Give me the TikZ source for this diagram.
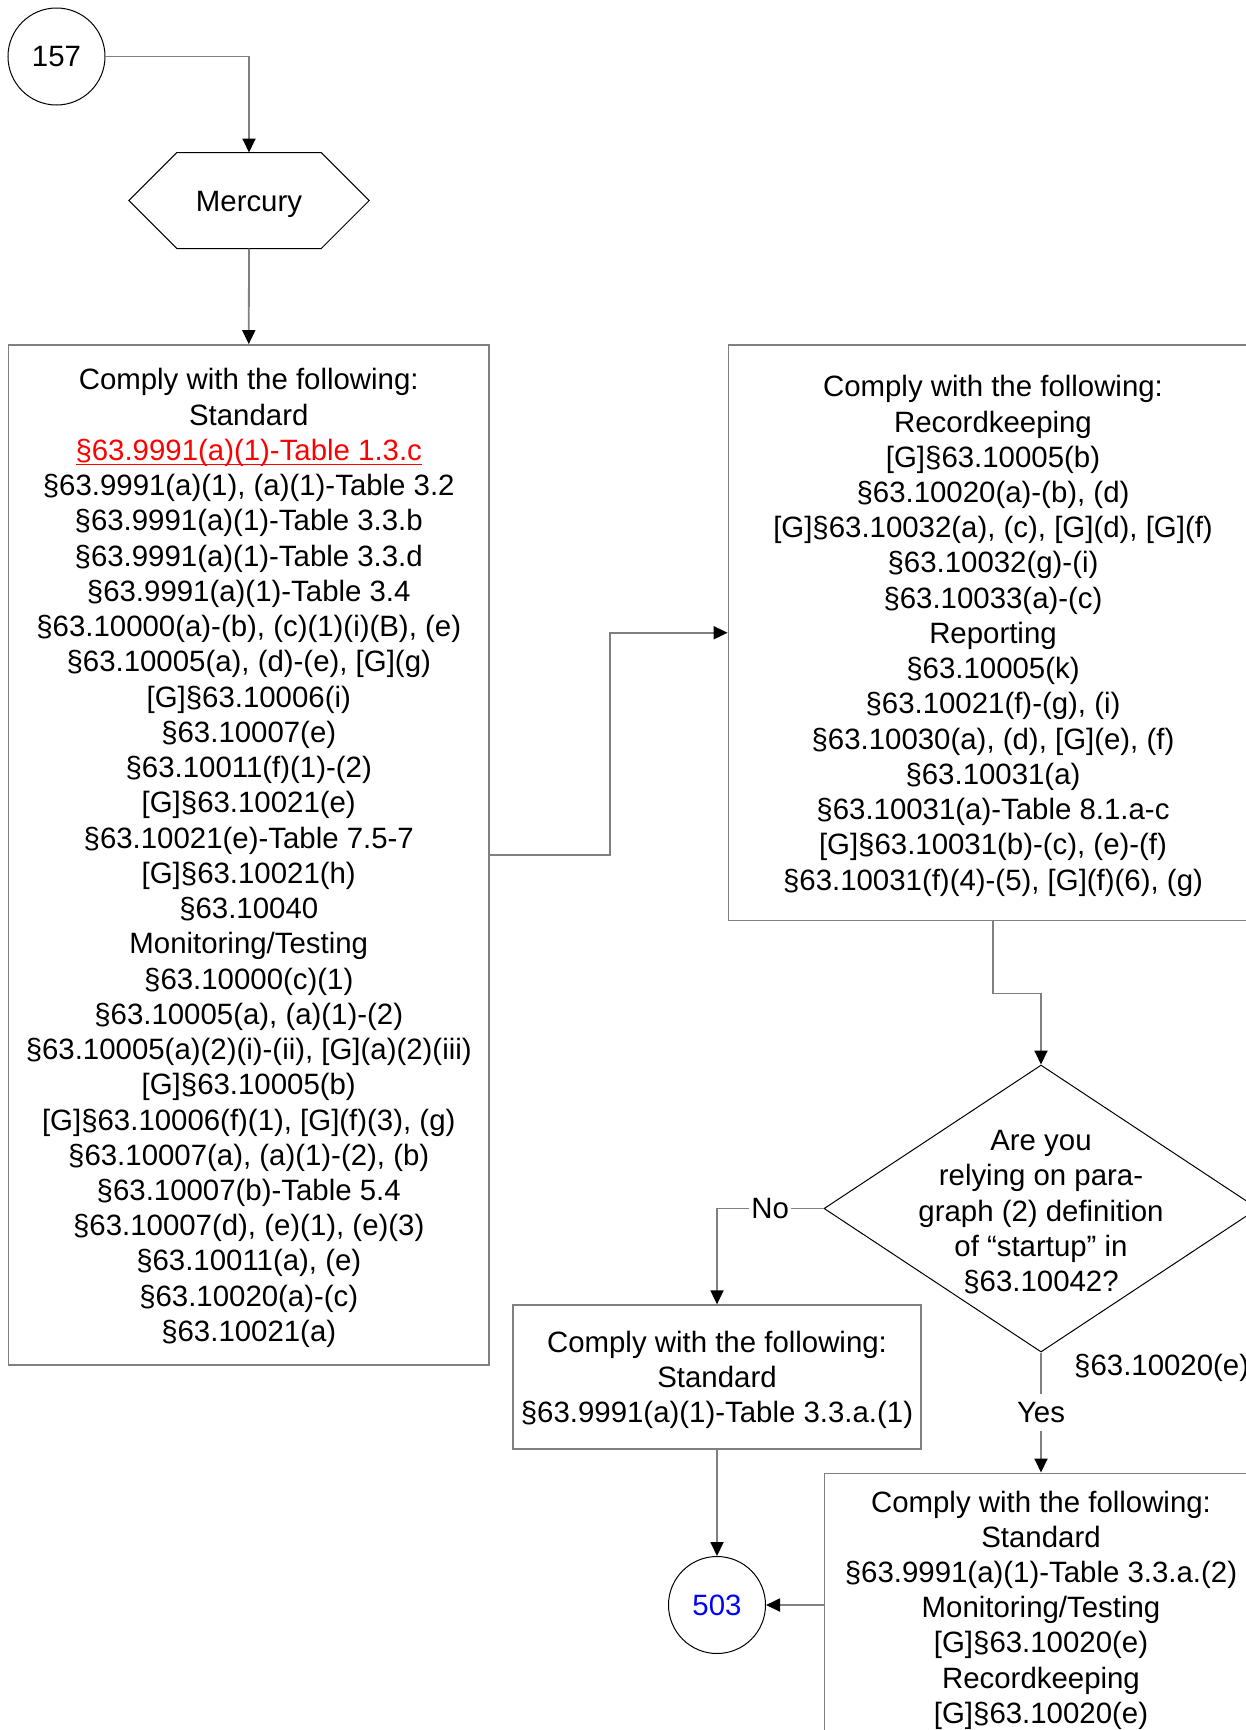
\documentclass[tikz,border=0pt]{standalone}
\usepackage{fontspec}
\setmainfont{Liberation Sans}
\usetikzlibrary{shapes.geometric,arrows.meta}
\definecolor{linegray}{HTML}{808080}
\definecolor{ulred}{HTML}{FF0000}
\definecolor{numblue}{HTML}{0000FF}
\newcommand\redul[1]{\setbox0\hbox{#1}\rlap{\rule[-5pt]{\wd0}{1.8pt}}\box0}
\newcommand\tp{\rule{0pt}{27.5pt}}
\begin{document}
\begin{tikzpicture}[x=1pt,y=-1pt,
  txt/.style={font=\fontsize{29.4}{35.24}\selectfont, align=center, inner sep=0pt},
  boxnode/.style={draw=linegray, line width=1.8pt, rectangle, inner sep=0pt},
  conn/.style={draw=linegray, line width=1.8pt, -{Triangle[length=14pt,width=13pt,color=black]}},
  ring/.style={circle, draw=black, line width=1pt, minimum size=97pt, inner sep=0pt, font=\fontsize{29.4}{35.24}\selectfont},
  lbl/.style={fill=white, inner xsep=2pt, inner ysep=8pt, font=\fontsize{29.4}{35.24}\selectfont},
]
\useasboundingbox (0,0) rectangle (1246,1730);
\clip (0,0) rectangle (1246,1730);

% start connector
\node[ring] (c157) at (56.5,56.5) {157};

% hexagon
\node[txt, minimum width=240pt, minimum height=95.6pt] (hex) at (249,200.5) {\tp Mercury};
\draw[black, line width=1pt] (hex.west) -- ([xshift=48pt]hex.north west) -- ([xshift=-48pt]hex.north east) -- (hex.east) -- ([xshift=-48pt]hex.south east) -- ([xshift=48pt]hex.south west) -- cycle;

% left box
\node[boxnode, txt, minimum width=480.5pt, minimum height=1020pt] (lbox) at (248.75,855) {%
\tp Comply with the following:\\
Standard\\
{\color{ulred}\redul{§63.9991(a)(1)-Table 1.3.c}}\\
§63.9991(a)(1), (a)(1)-Table 3.2\\
§63.9991(a)(1)-Table 3.3.b\\
§63.9991(a)(1)-Table 3.3.d\\
§63.9991(a)(1)-Table 3.4\\
§63.10000(a)-(b), (c)(1)(i)(B), (e)\\
§63.10005(a), (d)-(e), [G](g)\\
\relax[G]§63.10006(i)\\
§63.10007(e)\\
§63.10011(f)(1)-(2)\\
\relax[G]§63.10021(e)\\
§63.10021(e)-Table 7.5-7\\
\relax[G]§63.10021(h)\\
§63.10040\\
Monitoring/Testing\\
§63.10000(c)(1)\\
§63.10005(a), (a)(1)-(2)\\
§63.10005(a)(2)(i)-(ii), [G](a)(2)(iii)\\
\relax[G]§63.10005(b)\\
\relax[G]§63.10006(f)(1), [G](f)(3), (g)\\
§63.10007(a), (a)(1)-(2), (b)\\
§63.10007(b)-Table 5.4\\
§63.10007(d), (e)(1), (e)(3)\\
§63.10011(a), (e)\\
§63.10020(a)-(c)\\
§63.10021(a)};

% right box
\node[boxnode, txt, minimum width=529pt, minimum height=575.5pt] (rbox) at (993,632.75) {%
\tp Comply with the following:\\
Recordkeeping\\
\relax[G]§63.10005(b)\\
§63.10020(a)-(b), (d)\\
\relax[G]§63.10032(a), (c), [G](d), [G](f)\\
§63.10032(g)-(i)\\
§63.10033(a)-(c)\\
Reporting\\
§63.10005(k)\\
§63.10021(f)-(g), (i)\\
§63.10030(a), (d), [G](e), (f)\\
§63.10031(a)\\
§63.10031(a)-Table 8.1.a-c\\
\relax[G]§63.10031(b)-(c), (e)-(f)\\
§63.10031(f)(4)-(5), [G](f)(6), (g)};

% decision
\node[diamond, draw=black, line width=1pt, minimum width=434pt, minimum height=287pt, inner sep=0pt] (dia) at (1041,1208.5) {};
\node[txt] (diatxt) at (dia.center) {\tp Are you\\relying on para-\\graph (2) definition\\of “startup” in\\§63.10042?};

% side text
\node[txt, anchor=west] (sidelbl) at (1074,1367.5) {§63.10020(e)};

% small box
\node[boxnode, txt, minimum width=408pt, minimum height=143.5pt] (sbox) at (717,1377) {%
\tp Comply with the following:\\
Standard\\
§63.9991(a)(1)-Table 3.3.a.(1)};

% bottom box
\node[boxnode, minimum width=433pt, minimum height=320pt, anchor=north] (bbox) at (1041,1472.5) {};
\node[txt, anchor=north] (btxt) at (1041,1490.5) {%
Comply with the following:\\
Standard\\
§63.9991(a)(1)-Table 3.3.a.(2)\\
Monitoring/Testing\\
\relax[G]§63.10020(e)\\
Recordkeeping\\
\relax[G]§63.10020(e)};

% end connector
\node[ring, text=numblue] (c503) at (717,1605) {503};

% connectors
\draw[conn] (c157.east) -| (hex.north);
\draw[conn] (hex.south) -- (lbox.north);
\draw[conn] (lbox.east) -- ++(120,0) |- (rbox.west);
\draw[conn] (rbox.south) -- ++(0,72) -| (dia.north);
\draw[conn] (dia.west) -| node[lbl, pos=0.25] {No} (sbox.north);
\draw[conn] (dia.south) -- node[lbl] {Yes} (bbox.north);
\draw[conn] (sbox.south) -- (c503.north);
\draw[conn] (bbox.west |- c503.east) -- (c503.east);
\end{tikzpicture}
\end{document}
